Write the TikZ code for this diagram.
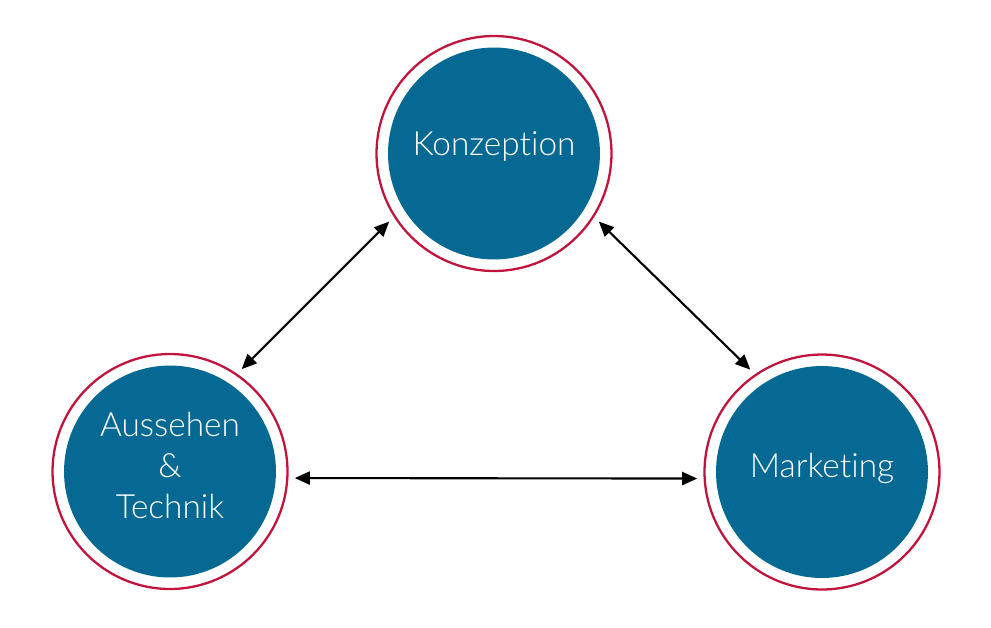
\documentclass[tikz,border=0pt]{standalone}
\usepackage{fontspec}
\setmainfont{Lato}[UprightFont=* Light, Ligatures=NoCommon]
\usepackage{tikz}
\usetikzlibrary{arrows.meta}
\definecolor{phaseblue}{HTML}{056994}
\definecolor{ringred}{HTML}{C0143C}
\tikzset{
    ring-circle/.style = {circle, draw=ringred, line width=1.3pt, fill=white, minimum size=4.7cm, inner sep=0pt, outer sep=0.15cm},
    phase-circle/.style = {circle, fill=phaseblue, text=white, minimum size=4.24cm, inner sep=0pt, align=center, text depth=0.4cm, font=\fontsize{19}{23.3}\selectfont},
    both-arrow/.style = {{Triangle[length=0.3cm,width=0.26cm]}-{Triangle[length=0.3cm,width=0.26cm]}, line width=1.2pt, black},
}
\begin{document}
\begin{tikzpicture}[x=0.02cm, y=-0.02cm]
\useasboundingbox (0,0) rectangle (991,627);
\node[ring-circle] (konz-ring) at (494,153.5) {};
\node[phase-circle] (konz) at (konz-ring) {Konzeption};
\node[ring-circle] (tech-ring) at (170,471.5) {};
\node[phase-circle, text depth=0.26cm] (tech) at (tech-ring) {Aussehen\\\&\\Technik};
\node[ring-circle] (mark-ring) at (822,472) {};
\node[phase-circle, text depth=0.26cm] (mark) at (mark-ring) {Marketing};
\draw[both-arrow] (konz-ring.213) -- (tech-ring.55);
\draw[both-arrow] (konz-ring.327) -- (mark-ring.125);
\draw[both-arrow] (tech-ring.-3) -- (mark-ring.183);
\end{tikzpicture}
\end{document}
